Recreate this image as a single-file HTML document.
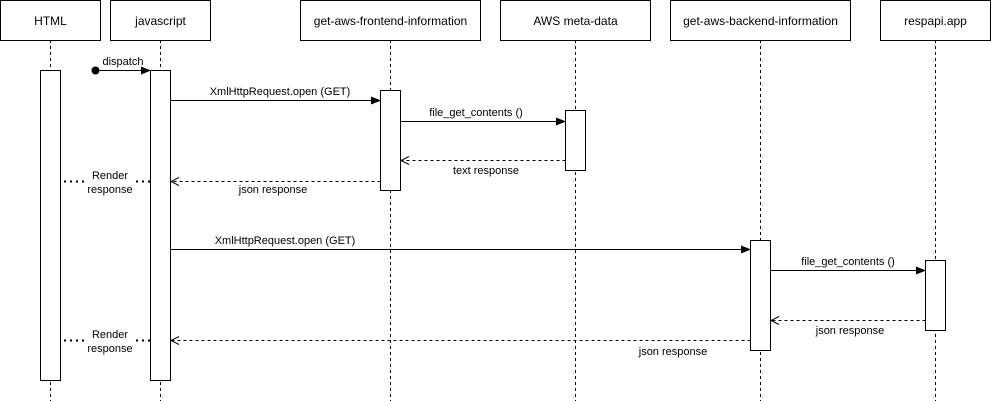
<!DOCTYPE html>
<html><head><meta charset="utf-8"><style>
html,body{margin:0;padding:0;background:#fff;}
svg{display:block;}
text{font-family:"Liberation Sans",Arial,sans-serif;font-size:11px;fill:#000;}
.h{font-size:12px;}
</style></head><body>
<svg width="991" height="401" viewBox="0 0 991 401" xmlns="http://www.w3.org/2000/svg">
<defs>
<marker id="a" markerWidth="10" markerHeight="8" refX="9" refY="4" orient="auto" markerUnits="userSpaceOnUse"><path d="M0,0 L10,4 L0,8 Z" fill="#000"/></marker>
<marker id="o" markerWidth="10" markerHeight="10" refX="9" refY="5" orient="auto" markerUnits="userSpaceOnUse"><path d="M1,1 L9,5 L1,9" fill="none" stroke="#000" stroke-width="1"/></marker>
</defs>
<g stroke="#000" stroke-width="1" stroke-dasharray="3,3" fill="none">
<line x1="50.5" y1="40" x2="50.5" y2="401"/>
<line x1="160.5" y1="40" x2="160.5" y2="401"/>
<line x1="390.5" y1="40" x2="390.5" y2="401"/>
<line x1="575.5" y1="40" x2="575.5" y2="401"/>
<line x1="760.5" y1="40" x2="760.5" y2="401"/>
<line x1="935.5" y1="40" x2="935.5" y2="401"/>
</g>
<g stroke="#000" fill="#fff">
<rect x="0.5" y="0.5" width="100" height="40"/>
<rect x="110.5" y="0.5" width="100" height="40"/>
<rect x="300.5" y="0.5" width="180" height="40"/>
<rect x="500.5" y="0.5" width="150" height="40"/>
<rect x="670.5" y="0.5" width="180" height="40"/>
<rect x="880.5" y="0.5" width="110" height="40"/>
<rect x="40.5" y="70.5" width="20" height="310"/>
<rect x="150.5" y="70.5" width="20" height="310"/>
<rect x="380.5" y="90.5" width="20" height="100"/>
<rect x="565.5" y="110.5" width="20" height="60"/>
<rect x="750.5" y="240.5" width="20" height="110"/>
<rect x="925.5" y="260.5" width="20" height="70"/>
</g>
<g text-anchor="middle" class="h">
<text class="h" x="50.5" y="25">HTML</text>
<text class="h" x="160.5" y="25">javascript</text>
<text class="h" x="390.5" y="25">get-aws-frontend-information</text>
<text class="h" x="575.5" y="25">AWS meta-data</text>
<text class="h" x="760.5" y="25">get-aws-backend-information</text>
<text class="h" x="935.5" y="25">respapi.app</text>
</g>
<circle cx="95.5" cy="70.5" r="4" fill="#000"/>
<g stroke="#000" fill="none">
<line x1="95.5" y1="70.5" x2="150" y2="70.5" marker-end="url(#a)"/>
<line x1="170.5" y1="100.5" x2="380" y2="100.5" marker-end="url(#a)"/>
<line x1="400.5" y1="121.5" x2="565" y2="121.5" marker-end="url(#a)"/>
<line x1="565.5" y1="160.5" x2="401" y2="160.5" stroke-dasharray="3,3" marker-end="url(#o)"/>
<line x1="380.5" y1="181.5" x2="171" y2="181.5" stroke-dasharray="3,3" marker-end="url(#o)"/>
<line x1="150" y1="181.5" x2="61" y2="181.5" stroke-dasharray="2,4" stroke-width="2"/>
<line x1="170.5" y1="249.5" x2="750" y2="249.5" marker-end="url(#a)"/>
<line x1="770.5" y1="270.5" x2="925" y2="270.5" marker-end="url(#a)"/>
<line x1="925.5" y1="320.5" x2="771" y2="320.5" stroke-dasharray="3,3" marker-end="url(#o)"/>
<line x1="750.5" y1="340.5" x2="171" y2="340.5" stroke-dasharray="3,3" marker-end="url(#o)"/>
<line x1="150" y1="340.5" x2="61" y2="340.5" stroke-dasharray="2,4" stroke-width="2"/>
</g>
<rect x="85" y="168" width="48" height="28" fill="#fff"/>
<rect x="85" y="327" width="48" height="28" fill="#fff"/>
<g text-anchor="middle">
<text x="123" y="65">dispatch</text>
<text x="280" y="95">XmlHttpRequest.open (GET)</text>
<text x="476" y="116">file_get_contents ()</text>
<text x="486" y="174">text response</text>
<text x="273" y="193">json response</text>
<text x="110" y="179">Render</text>
<text x="110" y="193">response</text>
<text x="285" y="244">XmlHttpRequest.open (GET)</text>
<text x="848" y="265">file_get_contents ()</text>
<text x="850" y="334">json response</text>
<text x="673" y="355">json response</text>
<text x="110" y="338">Render</text>
<text x="110" y="352">response</text>
</g>
</svg>
</body></html>
